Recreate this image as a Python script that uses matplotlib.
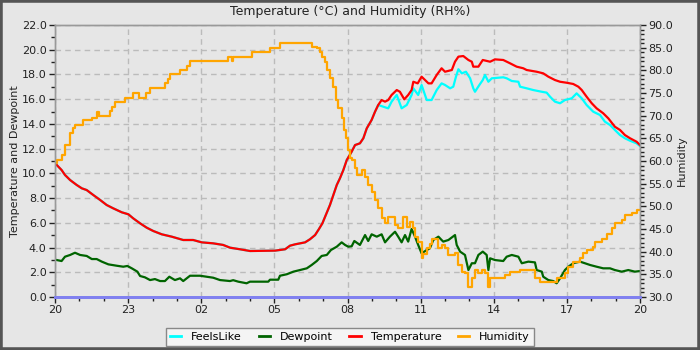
import matplotlib
matplotlib.use("Agg")
import matplotlib.pyplot as plt
from matplotlib.patches import Rectangle
from matplotlib.ticker import MultipleLocator, FuncFormatter

# Readings as (hours since 20:00, value)
humidity = [
    (0.00, 59.6), (0.08, 60.2), (0.27, 61.3), (0.41, 63.5), (0.62, 66.2), (0.74, 67.3),
    (0.82, 67.9), (1.15, 69.0), (1.51, 69.5), (1.71, 70.8), (1.80, 70.0), (2.26, 71.1),
    (2.33, 71.9), (2.46, 73.1), (2.87, 73.8), (3.15, 74.0), (3.20, 75.1), (3.36, 75.0),
    (3.45, 73.8), (3.73, 75.1), (3.90, 76.1), (4.51, 77.2), (4.64, 78.1), (4.72, 79.2),
    (5.13, 80.1), (5.40, 81.0), (5.54, 82.1), (7.10, 83.0), (7.25, 82.1), (7.30, 83.0),
    (8.07, 84.1), (8.82, 85.0), (9.23, 86.1), (10.53, 85.1), (10.74, 84.9), (10.87, 84.1),
    (10.94, 83.0), (11.08, 81.9), (11.15, 80.1), (11.28, 78.2), (11.42, 76.4), (11.52, 73.5),
    (11.62, 71.6), (11.76, 69.4), (11.87, 66.8), (11.94, 65.0), (12.03, 62.4), (12.10, 60.6),
    (12.17, 60.2), (12.31, 58.4), (12.38, 56.9), (12.58, 58.0), (12.72, 56.5), (12.85, 54.7),
    (12.99, 53.2), (13.13, 51.4), (13.26, 49.6), (13.40, 47.4), (13.54, 46.3), (13.67, 47.7),
    (13.95, 45.9), (14.08, 45.2), (14.28, 47.7), (14.43, 45.5), (14.56, 46.6), (14.70, 45.2),
    (14.77, 43.3), (14.90, 42.2), (15.04, 38.5), (15.10, 39.5), (15.25, 40.7), (15.38, 41.8),
    (15.45, 42.9), (15.73, 40.7), (15.86, 41.5), (16.00, 40.7), (16.14, 39.3), (16.41, 39.6),
    (16.55, 37.1), (16.69, 35.6), (16.82, 35.2), (16.96, 32.3), (17.10, 34.1), (17.23, 36.0),
    (17.37, 35.2), (17.51, 36.0), (17.64, 35.2), (17.78, 32.3), (17.85, 34.1), (18.46, 34.9),
    (18.67, 35.6), (19.08, 36.0), (19.69, 34.1), (19.90, 33.4), (20.58, 34.1), (20.92, 35.2),
    (21.06, 36.7), (21.26, 37.8), (21.54, 38.5), (21.67, 39.6), (21.81, 40.4), (22.08, 41.1),
    (22.15, 42.2), (22.43, 42.9), (22.64, 44.0), (22.84, 45.2), (22.97, 46.3), (23.25, 47.0),
    (23.38, 48.1), (23.66, 48.5), (23.87, 49.2), (24.00, 49.2),
]

temperature = [
    (0.07, 10.68), (0.27, 10.27), (0.41, 9.87), (0.62, 9.46), (0.89, 9.06), (1.10, 8.79),
    (1.30, 8.65), (1.57, 8.25), (1.85, 7.85), (2.12, 7.44), (2.39, 7.17), (2.74, 6.85),
    (3.01, 6.69), (3.21, 6.36), (3.49, 5.96), (3.76, 5.61), (4.03, 5.34), (4.38, 5.07),
    (4.79, 4.88), (5.26, 4.61), (5.67, 4.61), (6.02, 4.42), (6.49, 4.34), (6.90, 4.21),
    (7.18, 3.99), (7.59, 3.86), (8.00, 3.72), (9.03, 3.75), (9.44, 3.86), (9.64, 4.15),
    (9.85, 4.26), (10.26, 4.42), (10.46, 4.67), (10.67, 5.01), (10.83, 5.50), (10.97, 5.96),
    (11.11, 6.63), (11.28, 7.44), (11.42, 8.25), (11.56, 9.06), (11.69, 9.60), (11.83, 10.27),
    (11.97, 11.08), (12.17, 11.75), (12.31, 12.29), (12.51, 12.43), (12.65, 12.84),
    (12.79, 13.64), (12.99, 14.32), (13.13, 14.99), (13.26, 15.53), (13.40, 15.93),
    (13.54, 15.80), (13.67, 15.93), (13.81, 16.34), (14.02, 16.74), (14.15, 16.60),
    (14.33, 15.99), (14.49, 16.34), (14.63, 16.74), (14.70, 17.41), (14.88, 17.28),
    (15.04, 17.82), (15.32, 17.28), (15.45, 17.28), (15.66, 17.96), (15.86, 18.50),
    (16.00, 18.22), (16.28, 18.36), (16.41, 19.03), (16.55, 19.44), (16.75, 19.49),
    (16.96, 19.17), (17.10, 19.03), (17.16, 18.63), (17.37, 18.63), (17.55, 19.17),
    (17.85, 19.03), (18.05, 19.22), (18.39, 19.17), (18.67, 18.90), (18.94, 18.63),
    (19.21, 18.50), (19.35, 18.36), (19.76, 18.22), (20.03, 18.09), (20.24, 17.82),
    (20.51, 17.55), (20.72, 17.41), (20.99, 17.33), (21.26, 17.23), (21.47, 17.01),
    (21.61, 16.74), (21.81, 16.20), (22.02, 15.67), (22.22, 15.26), (22.49, 14.86),
    (22.70, 14.45), (22.97, 13.77), (23.18, 13.51), (23.38, 13.10), (23.59, 12.84),
    (23.86, 12.56), (24.00, 12.29),
]

# FeelsLike tracks the air temperature until early afternoon, then drops below it
feels_split = 13.40
feels_like_late = [
    (13.47, 15.39), (13.67, 15.26), (13.81, 15.80), (14.02, 16.34), (14.22, 15.26),
    (14.43, 15.53), (14.63, 16.34), (14.70, 16.88), (14.90, 16.34), (15.04, 17.15),
    (15.25, 15.93), (15.45, 15.93), (15.66, 16.74), (15.86, 17.28), (16.00, 17.15),
    (16.21, 16.88), (16.34, 17.01), (16.45, 17.82), (16.55, 18.42), (16.69, 18.09),
    (16.86, 18.22), (17.03, 17.69), (17.16, 16.88), (17.23, 16.60), (17.41, 17.15),
    (17.55, 17.55), (17.64, 17.96), (17.78, 17.41), (17.92, 17.69), (18.39, 17.77),
    (18.53, 17.69), (18.74, 17.47), (19.01, 17.41), (19.08, 17.01), (19.35, 16.88),
    (19.62, 16.74), (19.97, 16.60), (20.17, 16.53), (20.31, 16.20), (20.51, 15.80),
    (20.72, 15.67), (20.92, 15.93), (21.20, 16.07), (21.40, 16.47), (21.61, 16.07),
    (21.81, 15.53), (22.08, 14.99), (22.36, 14.72), (22.56, 14.18), (22.77, 13.91),
    (22.97, 13.51), (23.18, 13.10), (23.38, 12.84), (23.59, 12.64), (23.86, 12.43),
    (24.00, 12.21),
]

dewpoint = [
    (0.07, 2.99), (0.27, 2.91), (0.41, 3.26), (0.62, 3.40), (0.82, 3.58), (1.03, 3.40),
    (1.30, 3.32), (1.51, 3.07), (1.71, 3.07), (1.92, 2.86), (2.19, 2.64), (2.53, 2.53),
    (2.80, 2.45), (2.97, 2.51), (3.15, 2.32), (3.38, 2.05), (3.49, 1.70), (3.69, 1.59),
    (3.90, 1.37), (4.10, 1.45), (4.31, 1.29), (4.51, 1.29), (4.69, 1.64), (4.92, 1.37),
    (5.13, 1.51), (5.26, 1.29), (5.54, 1.72), (5.95, 1.72), (6.22, 1.64), (6.49, 1.56),
    (6.77, 1.37), (7.18, 1.29), (7.31, 1.36), (7.52, 1.24), (7.86, 1.11), (8.00, 1.24),
    (8.75, 1.24), (8.82, 1.40), (9.16, 1.40), (9.23, 1.72), (9.51, 1.84), (9.78, 2.05),
    (10.05, 2.18), (10.33, 2.32), (10.53, 2.59), (10.74, 2.91), (10.94, 3.32), (11.15, 3.40),
    (11.32, 3.80), (11.56, 4.07), (11.76, 4.42), (11.90, 4.21), (12.03, 4.07), (12.17, 4.10),
    (12.28, 4.53), (12.51, 4.21), (12.72, 5.01), (12.85, 4.53), (12.99, 5.07), (13.20, 4.88),
    (13.40, 5.07), (13.54, 4.42), (13.74, 4.88), (13.95, 5.28), (14.08, 4.88), (14.22, 4.42),
    (14.36, 5.01), (14.49, 4.48), (14.63, 5.50), (14.77, 4.88), (14.90, 4.21), (15.04, 3.53),
    (15.25, 3.80), (15.38, 3.94), (15.52, 4.61), (15.73, 4.88), (15.86, 4.61), (15.93, 4.48),
    (16.14, 4.61), (16.41, 5.01), (16.48, 4.21), (16.62, 3.67), (16.82, 3.40), (16.96, 2.18),
    (17.10, 2.73), (17.23, 2.73), (17.37, 3.40), (17.55, 3.67), (17.71, 3.40), (17.78, 2.18),
    (17.85, 3.13), (18.05, 2.99), (18.39, 2.91), (18.53, 3.26), (18.74, 3.40), (19.01, 3.26),
    (19.15, 2.73), (19.42, 2.86), (19.69, 2.80), (19.76, 2.18), (19.97, 2.05), (20.03, 1.64),
    (20.24, 1.37), (20.44, 1.29), (20.58, 1.11), (20.72, 1.51), (20.92, 2.18), (21.06, 2.45),
    (21.26, 2.73), (21.54, 2.86), (21.74, 2.73), (21.95, 2.59), (22.22, 2.45), (22.49, 2.32),
    (22.77, 2.32), (22.97, 2.18), (23.25, 2.05), (23.52, 2.18), (23.79, 2.05), (24.00, 2.10),
]

hour_ticks = [0, 3, 6, 9, 12, 15, 18, 21, 24]
hour_labels = ["20", "23", "02", "05", "08", "11", "14", "17", "20"]


def unzip(pairs):
    return [p[0] for p in pairs], [p[1] for p in pairs]


feels_like = [p for p in temperature if p[0] < feels_split] + feels_like_late

BG = "#e6e6e6"
TXT = "#222222"
plt.rcParams["font.family"] = "DejaVu Sans"

fig = plt.figure(figsize=(7, 3.5), dpi=100, facecolor=BG)
ax = fig.add_axes([55 / 700, 1 - 297 / 350, 585 / 700, 272 / 350])
ax.set_facecolor(BG)
ax2 = ax.twinx()

lw = 1.6
l_feels, = ax.plot(*unzip(feels_like), color="#00ffff", lw=lw, label="FeelsLike")
l_dew, = ax.plot(*unzip(dewpoint), color="#006400", lw=lw, label="Dewpoint")
l_temp, = ax.plot(*unzip(temperature), color="#ff0000", lw=lw, label="Temperature")
l_hum, = ax2.plot(*unzip(humidity), color="#ffa500", lw=lw, drawstyle="steps-post",
                  label="Humidity")

ax.set_xlim(0, 24)
ax.set_ylim(0, 22)
ax2.set_ylim(30, 90)

ax.set_xticks(hour_ticks)
ax.set_xticklabels(hour_labels)
ax.xaxis.set_minor_locator(MultipleLocator(1))
ax.yaxis.set_major_locator(MultipleLocator(2))
ax.yaxis.set_minor_locator(MultipleLocator(1))
ax.yaxis.set_major_formatter(FuncFormatter(lambda v, p: f"{v:.1f}"))
ax2.yaxis.set_major_locator(MultipleLocator(5))
ax2.yaxis.set_minor_locator(MultipleLocator(1))
ax2.yaxis.set_major_formatter(FuncFormatter(lambda v, p: f"{v:.1f}"))

for a in (ax, ax2):
    a.tick_params(which="major", length=4, width=1, labelsize=8, color=TXT,
                  labelcolor=TXT, pad=2)
    a.tick_params(which="minor", length=3, width=1, color=TXT)
    for s in a.spines.values():
        s.set_color("#999999")
        s.set_linewidth(1)
    a.spines["bottom"].set_color("#8080f0")
    a.spines["bottom"].set_linewidth(2)

ax.grid(True, which="major", linestyle=(0, (4, 3)), color="#bbbbbb", lw=1)

ax.set_ylabel("Temperature and Dewpoint", fontsize=8, color=TXT, labelpad=1)
ax2.set_ylabel("Humidity", fontsize=8, color=TXT, labelpad=3)

fig.text(0.5, 1 - 12 / 350, "Temperature (°C) and Humidity (RH%)", ha="center",
         va="center", fontsize=9, color=TXT)

leg = fig.legend(handles=[l_feels, l_dew, l_temp, l_hum], loc="center",
                 bbox_to_anchor=(0.5, 1 - 337 / 350), ncol=4, fontsize=8,
                 frameon=True, fancybox=False, handlelength=1.0, handletextpad=0.9,
                 columnspacing=1.5, borderpad=0.35)
leg.get_frame().set_facecolor("#f4f4f4")
leg.get_frame().set_edgecolor("#888888")
leg.get_frame().set_linewidth(1)
leg.get_frame().set_alpha(1)
for h in leg.get_lines():
    h.set_linewidth(2)

fig.patches.append(Rectangle((0, 0), 1, 1, transform=fig.transFigure, fill=False,
                             edgecolor="#555555", lw=4, zorder=10))

fig.savefig("out.png", dpi=100, facecolor=BG)
